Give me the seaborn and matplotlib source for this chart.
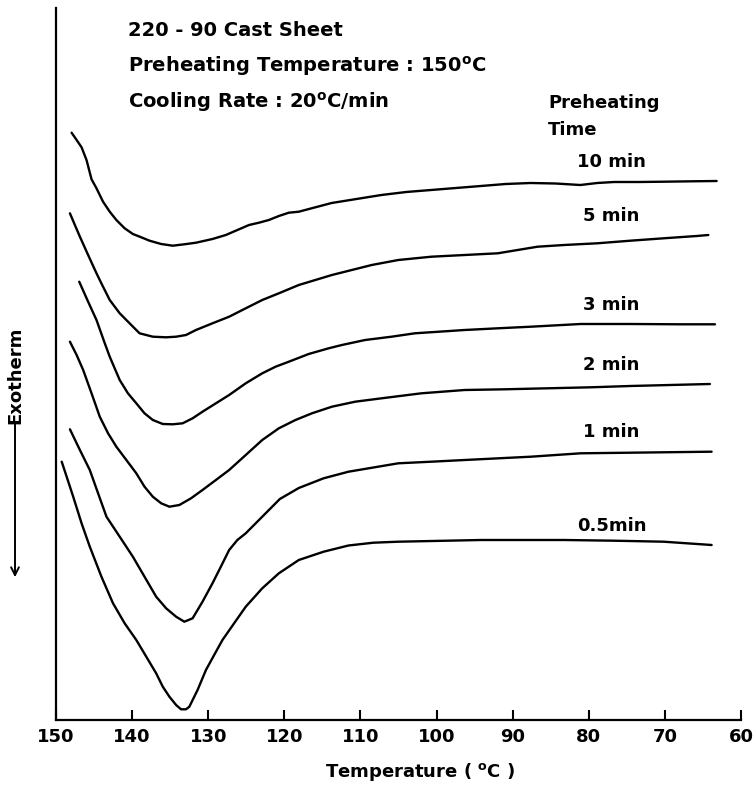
import numpy as np
import pandas as pd
import matplotlib
matplotlib.use("Agg")
import matplotlib.pyplot as plt
import seaborn as sns

# ---- data (x = temperature in °C, y = exotherm signal, arbitrary units) ----
t_10 = [147.95, 147.29, 146.64, 145.99, 145.33, 144.68, 143.82, 142.94, 142.07, 140.98, 139.90, 138.80,
        137.71, 136.18, 134.67, 133.14, 131.61, 129.44, 127.69, 125.95, 124.64, 123.33, 122.03, 120.72,
        119.41, 118.10, 113.79, 110.52, 107.25, 103.99, 100.72, 97.45, 94.18, 90.92, 87.65, 84.38,
        81.11, 78.89, 76.67, 73.40, 70.13, 66.47, 63.20]
y_10 = [58.73, 58.0, 57.27, 56.0, 54.07, 53.17, 51.83, 50.83, 50.0, 49.17, 48.6, 48.27,
        47.93, 47.6, 47.43, 47.57, 47.73, 48.1, 48.5, 49.07, 49.5, 49.73, 50.0, 50.4,
        50.73, 50.83, 51.7, 52.1, 52.5, 52.8, 53.0, 53.2, 53.4, 53.6, 53.7, 53.65,
        53.5, 53.7, 53.8, 53.8, 53.83, 53.87, 53.9]

t_5 = [148.17, 147.52, 146.86, 145.78, 144.68, 143.82, 142.94, 141.63, 140.33, 139.02, 137.28, 135.53,
       134.22, 132.92, 131.61, 129.44, 127.25, 125.07, 122.90, 120.72, 118.10, 113.75, 108.52, 105.03,
       100.68, 96.31, 91.96, 86.73, 83.24, 78.89, 74.54, 70.17, 65.82, 64.29]
y_5 = [50.67, 49.5, 48.33, 46.5, 44.67, 43.33, 42.0, 40.67, 39.67, 38.67, 38.33, 38.27,
       38.33, 38.5, 39.0, 39.67, 40.33, 41.17, 42.0, 42.67, 43.5, 44.5, 45.5, 46.0,
       46.33, 46.5, 46.67, 47.33, 47.5, 47.67, 47.93, 48.17, 48.4, 48.5]

t_3 = [146.95, 145.78, 144.68, 143.59, 142.94, 142.29, 141.63, 140.55, 139.45, 138.37, 137.28, 135.97,
       134.67, 133.36, 132.05, 130.75, 128.99, 127.25, 125.07, 122.90, 121.15, 119.41, 116.80, 114.18,
       112.44, 109.39, 105.91, 102.85, 96.31, 91.96, 87.61, 81.07, 74.54, 68.0, 63.42]
y_3 = [43.83, 41.83, 40.0, 37.67, 36.33, 35.17, 34.0, 32.67, 31.67, 30.67, 30.0, 29.6,
       29.57, 29.67, 30.17, 30.83, 31.67, 32.5, 33.67, 34.67, 35.33, 35.83, 36.6, 37.17,
       37.5, 38.0, 38.33, 38.67, 39.0, 39.17, 39.33, 39.6, 39.6, 39.57, 39.57]

t_2 = [148.17, 147.29, 146.43, 145.33, 144.25, 143.16, 142.07, 140.76, 139.45, 138.37, 137.28, 136.18,
       135.10, 133.79, 132.26, 130.75, 128.99, 127.25, 125.07, 122.90, 120.72, 118.54, 116.37, 113.75,
       110.69, 107.22, 101.99, 96.31, 91.08, 85.42, 79.76, 74.54, 69.31, 64.08]
y_2 = [37.83, 36.5, 35.0, 32.67, 30.33, 28.67, 27.33, 26.0, 24.67, 23.33, 22.33, 21.67,
       21.33, 21.5, 22.17, 23.0, 24.0, 25.0, 26.5, 28.0, 29.17, 30.0, 30.67, 31.33,
       31.83, 32.17, 32.67, 33.0, 33.07, 33.17, 33.27, 33.4, 33.5, 33.6]

t_1 = [148.17, 146.86, 145.56, 144.47, 143.37, 141.63, 139.90, 138.37, 136.84, 135.53, 134.22, 133.14,
       132.05, 130.75, 129.44, 128.34, 127.25, 126.17, 125.07, 122.90, 120.59, 118.10, 114.84, 111.57,
       105.03, 100.68, 96.31, 87.61, 81.07, 74.54, 63.86]
y_1 = [29.07, 27.0, 25.0, 22.67, 20.33, 18.33, 16.33, 14.33, 12.33, 11.17, 10.33, 9.83,
       10.17, 11.83, 13.67, 15.33, 17.0, 18.0, 18.67, 20.33, 22.1, 23.2, 24.17, 24.83,
       25.67, 25.83, 26.0, 26.33, 26.67, 26.73, 26.83]

t_05 = [149.25, 148.60, 147.74, 146.64, 145.56, 144.03, 142.51, 140.98, 139.45, 138.14, 136.84, 135.97,
        135.10, 134.22, 133.57, 132.92, 132.48, 131.40, 130.30, 129.22, 128.13, 126.60, 125.07, 122.90,
        120.72, 118.10, 114.84, 111.57, 108.30, 105.03, 94.14, 83.24, 76.71, 70.17, 63.86]
y_05 = [25.83, 24.33, 22.33, 19.67, 17.33, 14.33, 11.67, 9.67, 8.0, 6.33, 4.67, 3.33,
        2.33, 1.5, 1.07, 1.07, 1.33, 3.0, 5.0, 6.5, 8.0, 9.67, 11.33, 13.17,
        14.67, 16.0, 16.83, 17.45, 17.73, 17.83, 18.0, 18.0, 17.93, 17.83, 17.5]

series_names = ["10 min", "5 min", "3 min", "2 min", "1 min", "0.5min"]
series_t = [t_10, t_5, t_3, t_2, t_1, t_05]
series_y = [y_10, y_5, y_3, y_2, y_1, y_05]

x_ticks = [150, 140, 130, 120, 110, 100, 90, 80, 70, 60]

header_lines = ["220 - 90 Cast Sheet",
                "Preheating Temperature : 150$^{\\mathregular{o}}$C",
                "Cooling Rate : 20$^{\\mathregular{o}}$C/min"]
legend_title = ["Preheating", "Time"]

# ---- build long table ----
frames = []
for name, t, y in zip(series_names, series_t, series_y):
    frames.append(pd.DataFrame({"Temperature": t, "Signal": y, "Time": name}))
df = pd.concat(frames, ignore_index=True)

sns.set_theme(style="white")
plt.rcParams["font.family"] = ["DejaVu Sans"]
plt.rcParams["text.color"] = "black"
plt.rcParams["axes.labelcolor"] = "black"
plt.rcParams["xtick.color"] = "black"

fig = plt.figure(figsize=(7.55, 7.88), dpi=100)
ax = fig.add_axes([56 / 755, 1 - 720 / 788, (741 - 56) / 755, (720 - 8) / 788])

sns.lineplot(data=df, x="Temperature", y="Signal", hue="Time",
             palette=["black"] * len(series_names), sort=False, estimator=None,
             linewidth=1.7, legend=False, ax=ax)
for ln in ax.get_lines():
    ln.set_solid_joinstyle("round")
    ln.set_solid_capstyle("round")

ax.set_xlim(150, 60)
ax.set_ylim(0, 71.2)
ax.set_xticks(x_ticks)
ax.set_xticklabels([str(v) for v in x_ticks], fontsize=13, fontweight="bold", color="black")
ax.set_yticks([])
ax.tick_params(axis="x", direction="in", length=7, width=1.5, color="black", pad=6,
               bottom=True)
for s in ["top", "right"]:
    ax.spines[s].set_visible(False)
for s in ["left", "bottom"]:
    ax.spines[s].set_color("black")
    ax.spines[s].set_linewidth(1.6)
ax.set_xlabel("Temperature ( $^{\\mathregular{o}}$C )", fontsize=13, fontweight="bold",
              va="center", color="black")
ax.xaxis.set_label_coords((420 - 56) / 685, -(772 - 720) / 712)
ax.set_ylabel("")

# curve labels, just above the right end of each curve
for name, t, y in zip(series_names, series_t, series_y):
    ax.annotate(name, xy=(77, y[-1]), xytext=(0, 14), textcoords="offset points",
                ha="center", va="center", fontsize=13, fontweight="bold", color="black")

# header texts
for i, line in enumerate(header_lines):
    fig.text(128 / 755, 1 - (30 + 36 * i) / 788, line, fontsize=14, fontweight="bold",
             ha="left", va="center", color="black")
for i, line in enumerate(legend_title):
    fig.text(548 / 755, 1 - (103 + 27 * i) / 788, line, fontsize=13, fontweight="bold",
             ha="left", va="center", color="black")

# y label with arrow
fig.text(15 / 755, 1 - 375 / 788, "Exotherm", rotation=90, fontsize=13, fontweight="bold",
         ha="center", va="center", color="black")
fig.add_artist(matplotlib.patches.FancyArrowPatch(
    (15 / 755, 1 - 420 / 788), (15 / 755, 1 - 580 / 788), transform=fig.transFigure,
    arrowstyle="->", mutation_scale=14, linewidth=1.4, color="black"))

fig.savefig("out.png", dpi=100, facecolor="white")
